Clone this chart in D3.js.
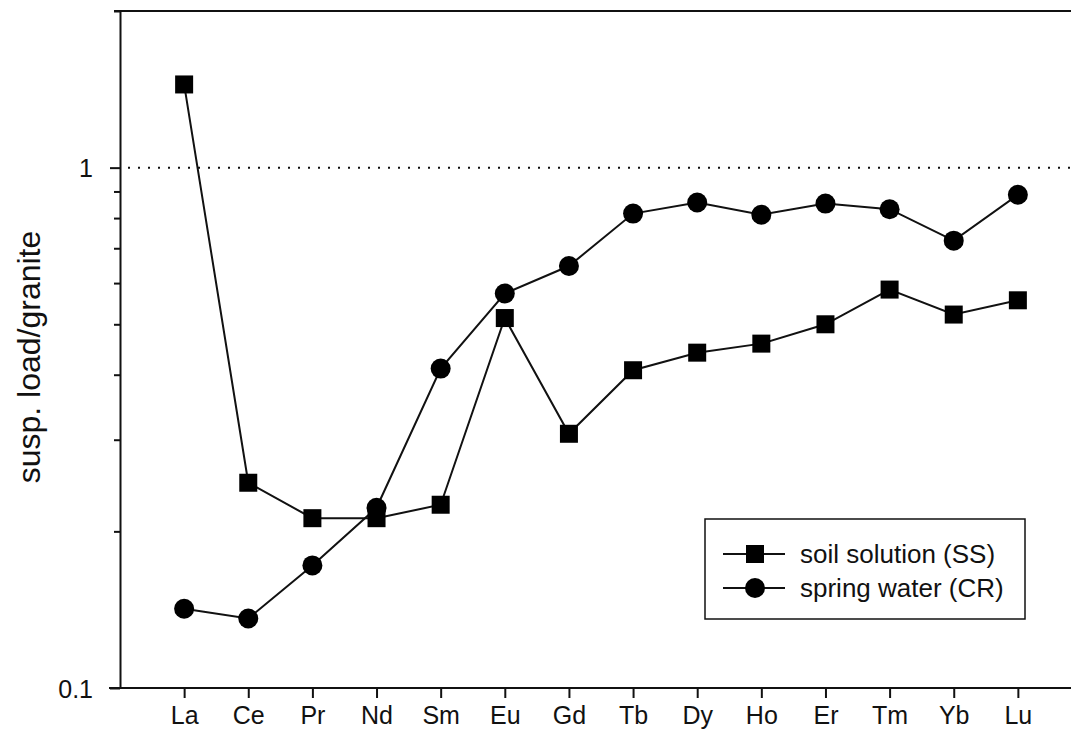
<!DOCTYPE html>
<html>
<head>
<meta charset="utf-8">
<script src="https://d3js.org/d3.v7.min.js"></script>
<style>
  body { margin: 0; background: #fff; }
  svg { display: block; font-family: "Liberation Sans", Arial, sans-serif; }
</style>
</head>
<body>
<div id="container"></div>
<script>
// REE pattern, values
let elements = ["La","Ce","Pr","Nd","Sm","Eu","Gd","Tb","Dy","Ho","Er","Tm","Yb","Lu"];
let soilSolution = [1.445,0.248,0.212,0.212,0.225,0.514,0.308,0.408,0.441,0.459,0.500,0.583,0.522,0.556];
let springWater  = [0.142,0.136,0.172,0.222,0.411,0.573,0.647,0.816,0.857,0.812,0.853,0.832,0.724,0.887];
let majorTicks = [0.1, 1];
let minorTicks = [0.2,0.3,0.4,0.5,0.6,0.7,0.8,0.9,2];
let seriesNames = ["soil solution (SS)", "spring water (CR)"];

let w = 1071;
let h = 734;
let padLeft = 120, padRight = 1082, padTop = 12, padBottom = 688;

let viz = d3.select("#container")
    .append("svg")
    .attr("width", w)
    .attr("height", h);

let xScale = d3.scalePoint()
    .domain(elements)
    .range([padLeft, padRight])
    .padding(1);

let yScale = d3.scaleLog()
    .domain([0.1, 2])
    .range([padBottom, 11]);

// top frame line
viz.append("line")
    .attr("x1", padLeft - 6).attr("x2", padRight)
    .attr("y1", yScale(2)).attr("y2", yScale(2))
    .attr("stroke", "#111").attr("stroke-width", 2);

// dotted reference line at 1
viz.append("line")
    .attr("x1", padLeft + 8).attr("x2", padRight)
    .attr("y1", yScale(1)).attr("y2", yScale(1))
    .attr("stroke", "#111").attr("stroke-width", 2)
    .attr("stroke-dasharray", "2,8");

// y axis (major ticks with labels)
let yAxis = d3.axisLeft(yScale).tickValues(majorTicks).tickSize(10).tickSizeOuter(0)
    .tickFormat(d => d3.format("")(d));
let yAxisGroup = viz.append("g").attr("transform", "translate(" + padLeft + ",0)").call(yAxis);
yAxisGroup.select(".domain").attr("stroke", "#111").attr("stroke-width", 2);
yAxisGroup.selectAll(".tick line").attr("stroke", "#111").attr("stroke-width", 2);
yAxisGroup.selectAll("text").attr("font-size", 25).attr("fill", "#111")
    .attr("x", -27).attr("dy", "0.36em").style("font-family", "Liberation Sans, Arial, sans-serif");

// minor ticks
let yMinor = d3.axisLeft(yScale).tickValues(minorTicks).tickSize(6).tickFormat("");
let yMinorGroup = viz.append("g").attr("transform", "translate(" + padLeft + ",0)").call(yMinor);
yMinorGroup.select(".domain").remove();
yMinorGroup.selectAll(".tick line").attr("stroke", "#111").attr("stroke-width", 2);

// x axis
let xAxis = d3.axisBottom(xScale).tickSize(10).tickSizeOuter(0);
let xAxisGroup = viz.append("g").attr("transform", "translate(0," + padBottom + ")").call(xAxis);
xAxisGroup.select(".domain").remove();
xAxisGroup.selectAll(".tick line").attr("stroke", "#111").attr("stroke-width", 2);
xAxisGroup.selectAll("text").attr("font-size", 25).attr("fill", "#111").attr("y", 18)
    .style("font-family", "Liberation Sans, Arial, sans-serif");

viz.append("line")
    .attr("x1", padLeft - 11).attr("x2", padRight)
    .attr("y1", padBottom).attr("y2", padBottom)
    .attr("stroke", "#111").attr("stroke-width", 2);

// y label
viz.append("text")
    .attr("transform", "translate(40,357) rotate(-90)")
    .attr("text-anchor", "middle")
    .attr("font-size", 32)
    .attr("fill", "#111")
    .text("susp. load/granite");

let line = d3.line()
    .x((d, i) => xScale(elements[i]))
    .y(d => yScale(d));

// lines
viz.append("path").datum(soilSolution).attr("d", line)
    .attr("fill", "none").attr("stroke", "#111").attr("stroke-width", 2);
viz.append("path").datum(springWater).attr("d", line)
    .attr("fill", "none").attr("stroke", "#111").attr("stroke-width", 2);

// markers
viz.selectAll(".sq").data(soilSolution).enter().append("rect")
    .attr("class", "sq")
    .attr("x", (d, i) => xScale(elements[i]) - 9)
    .attr("y", d => yScale(d) - 9)
    .attr("width", 18).attr("height", 18)
    .attr("fill", "#000");

viz.selectAll(".ci").data(springWater).enter().append("circle")
    .attr("class", "ci")
    .attr("cx", (d, i) => xScale(elements[i]))
    .attr("cy", d => yScale(d))
    .attr("r", 10)
    .attr("fill", "#000");

// legend
let legend = viz.append("g").attr("transform", "translate(705,519)");
legend.append("rect")
    .attr("width", 320).attr("height", 100)
    .attr("fill", "#fff").attr("stroke", "#111").attr("stroke-width", 1.5);

seriesNames.forEach(function(name, i){
    let g = legend.append("g").attr("transform", "translate(0," + (35 + i * 34) + ")");
    g.append("line").attr("x1", 18).attr("x2", 80).attr("y1", 0).attr("y2", 0)
        .attr("stroke", "#111").attr("stroke-width", 2);
    if (i == 0) {
        g.append("rect").attr("x", 41).attr("y", -9).attr("width", 18).attr("height", 18).attr("fill", "#000");
    } else {
        g.append("circle").attr("cx", 50).attr("cy", 0).attr("r", 10).attr("fill", "#000");
    }
    g.append("text").attr("x", 95).attr("y", 0).attr("dy", "0.35em")
        .attr("font-size", 26).attr("fill", "#111").text(name);
});
</script>
</body>
</html>
